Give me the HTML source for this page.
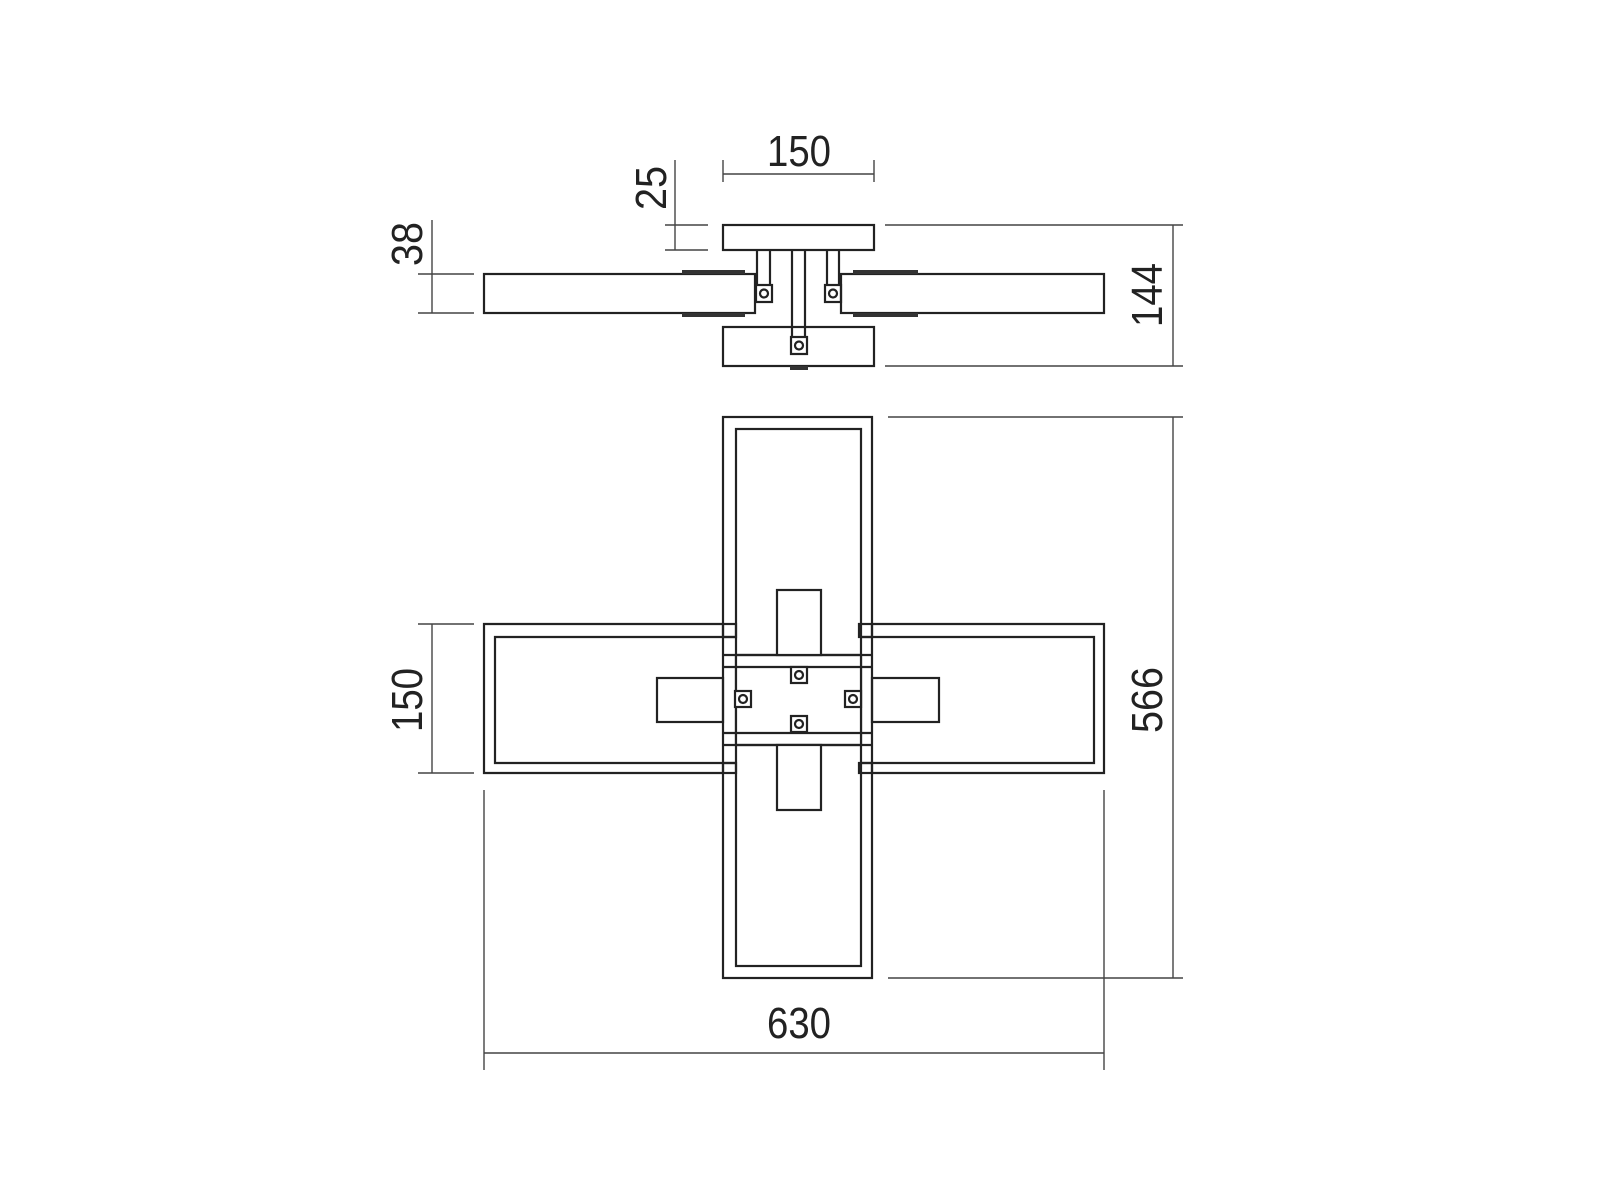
<!DOCTYPE html>
<html><head><meta charset="utf-8"><style>html,body{margin:0;background:#fff}svg{display:block}</style></head>
<body>
<svg width="1600" height="1200" viewBox="0 0 1600 1200" xmlns="http://www.w3.org/2000/svg">
<g fill="none" stroke="#222" stroke-width="2.2">
<rect x="723" y="225" width="151" height="25"/>
<rect x="723" y="327" width="151" height="39"/>
<rect x="484" y="274" width="271" height="39"/>
<rect x="841" y="274" width="263" height="39"/>
<line x1="757" y1="250" x2="757" y2="286"/><line x1="770" y1="250" x2="770" y2="286"/>
<line x1="792" y1="250" x2="792" y2="338"/><line x1="805" y1="250" x2="805" y2="338"/>
<line x1="827" y1="250" x2="827" y2="286"/><line x1="839" y1="250" x2="839" y2="286"/>
<rect x="756" y="285" width="16" height="17"/><circle cx="764" cy="293.5" r="4"/>
<rect x="825" y="285" width="16" height="17"/><circle cx="833" cy="293.5" r="4"/>
<rect x="791" y="337" width="16" height="17"/><circle cx="799" cy="345.5" r="4"/>
</g>
<g stroke="#333" stroke-width="4">
<line x1="682" y1="272" x2="745" y2="272"/><line x1="682" y1="315" x2="745" y2="315"/>
<line x1="853" y1="272" x2="918" y2="272"/><line x1="853" y1="315" x2="918" y2="315"/>
<line x1="790" y1="368" x2="808" y2="368"/>
</g>
<g fill="none" stroke="#222" stroke-width="2.2">
<rect x="723" y="417" width="149" height="561"/>
<rect x="736" y="429" width="125" height="537"/>
<path d="M723 624 H484 V773 H723 M872 624 H1104 V773 H872"/>
<path d="M736 637 H495 V763 H736 M861 637 H1094 V763 H861"/>
<rect x="723" y="624" width="13" height="13"/><rect x="859" y="624" width="13" height="13"/>
<rect x="723" y="763" width="13" height="10"/><rect x="859" y="763" width="13" height="10"/>
<rect x="736" y="655" width="125" height="90" fill="#fff"/>
<line x1="723" y1="667" x2="872" y2="667"/><line x1="723" y1="733" x2="872" y2="733"/>
<line x1="723" y1="655" x2="872" y2="655"/><line x1="723" y1="745" x2="872" y2="745"/>
<rect x="777" y="590" width="44" height="65" fill="#fff"/>
<rect x="777" y="745" width="44" height="65" fill="#fff"/>
<rect x="657" y="678" width="66" height="44"/>
<rect x="872" y="678" width="67" height="44"/>
<rect x="791" y="667" width="16" height="16" fill="#fff"/><circle cx="799" cy="675" r="4"/>
<rect x="791" y="716" width="16" height="16" fill="#fff"/><circle cx="799" cy="724" r="4"/>
<rect x="735" y="691" width="16" height="16" fill="#fff"/><circle cx="743" cy="699" r="4"/>
<rect x="845" y="691" width="16" height="16" fill="#fff"/><circle cx="853" cy="699" r="4"/>
</g>
<g stroke="#444" stroke-width="1.4">
<line x1="723" y1="160" x2="723" y2="182"/><line x1="874" y1="160" x2="874" y2="182"/><line x1="723" y1="174" x2="874" y2="174"/>
<line x1="675" y1="160" x2="675" y2="250"/><line x1="665" y1="225" x2="708" y2="225"/><line x1="665" y1="250" x2="708" y2="250"/>
<line x1="432" y1="220" x2="432" y2="313"/><line x1="418" y1="274" x2="474" y2="274"/><line x1="418" y1="313" x2="474" y2="313"/>
<line x1="1173" y1="225" x2="1173" y2="366"/><line x1="885" y1="225" x2="1183" y2="225"/><line x1="885" y1="366" x2="1183" y2="366"/>
<line x1="1173" y1="417" x2="1173" y2="978"/><line x1="888" y1="417" x2="1183" y2="417"/><line x1="888" y1="978" x2="1183" y2="978"/>
<line x1="432" y1="624" x2="432" y2="773"/><line x1="418" y1="624" x2="474" y2="624"/><line x1="418" y1="773" x2="474" y2="773"/>
<line x1="484" y1="790" x2="484" y2="1070"/><line x1="1104" y1="790" x2="1104" y2="1070"/><line x1="484" y1="1053" x2="1104" y2="1053"/>
</g>
<g font-family="Liberation Sans, sans-serif" font-size="44" fill="#222" text-anchor="middle">
<text x="799" y="166" textLength="64" lengthAdjust="spacingAndGlyphs">150</text>
<text x="799" y="1038" textLength="64" lengthAdjust="spacingAndGlyphs">630</text>
<text transform="translate(666,188) rotate(-90)" textLength="44" lengthAdjust="spacingAndGlyphs">25</text>
<text transform="translate(422,244) rotate(-90)" textLength="44" lengthAdjust="spacingAndGlyphs">38</text>
<text transform="translate(422,700) rotate(-90)" textLength="64" lengthAdjust="spacingAndGlyphs">150</text>
<text transform="translate(1162,295) rotate(-90)" textLength="64" lengthAdjust="spacingAndGlyphs">144</text>
<text transform="translate(1162,700) rotate(-90)" textLength="66" lengthAdjust="spacingAndGlyphs">566</text>
</g>
</svg>
</body></html>
